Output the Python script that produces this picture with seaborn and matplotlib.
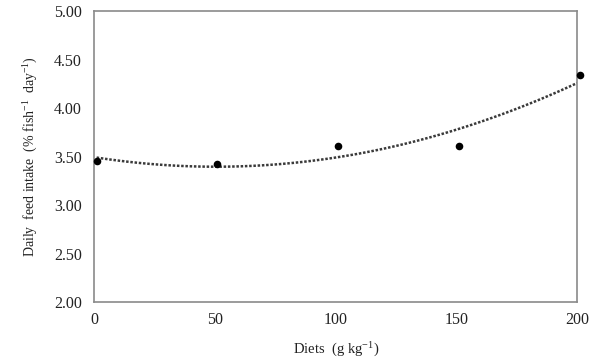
import numpy as np
import pandas as pd
import matplotlib
matplotlib.use("Agg")
import matplotlib.pyplot as plt
import seaborn as sns

# Data
diets = [1, 51, 101, 151, 201]
feed_intake = [3.46, 3.42, 3.61, 3.61, 4.34]
x_ticks = [0, 50, 100, 150, 200]
y_ticks = [2.00, 2.50, 3.00, 3.50, 4.00, 4.50, 5.00]

sns.set_theme(style="white")
plt.rcParams.update({
    'font.family': ['Liberation Serif', 'DejaVu Serif'],
    'mathtext.fontset': 'custom',
    'mathtext.rm': 'Liberation Serif',
    'mathtext.it': 'Liberation Serif',
    'axes.edgecolor': '#8a8a8a',
    'axes.linewidth': 1.2,
})

df = pd.DataFrame({"diet": diets, "intake": feed_intake})

fig = plt.figure(figsize=(6, 3.61), dpi=100)
ax = fig.add_axes([0.157, 0.163, 0.805, 0.806])

# quadratic trendline
sns.regplot(data=df, x="diet", y="intake", order=2, ci=None, scatter=False,
            truncate=True, ax=ax,
            line_kws={"color": "#3a3a3a", "linestyle": (0, (1, 0.7)), "linewidth": 1.8})
sns.scatterplot(data=df, x="diet", y="intake", color="black", s=30,
                edgecolor="black", linewidth=0, ax=ax, zorder=3, clip_on=False)

ax.set_xlim(0, 200)
ax.set_ylim(2.0, 5.0)
ax.set_xticks(x_ticks)
ax.set_yticks(y_ticks)
ax.set_yticklabels([f"{v:.2f}" for v in y_ticks])
ax.tick_params(axis="both", length=0, labelsize=11.5, colors="#222222")
ax.tick_params(axis="y", pad=9)
ax.tick_params(axis="x", pad=7)
for s in ax.spines.values():
    s.set_visible(True)

ax.set_xlabel(r"Diets  (g kg$^{-1}$)", fontsize=10.5, color="#222222", labelpad=9)
ax.set_ylabel(r"Daily  feed intake  (% fish$^{-1}$  day$^{-1}$)", fontsize=10,
              color="#222222", labelpad=10)

fig.savefig("out.png", dpi=100)
